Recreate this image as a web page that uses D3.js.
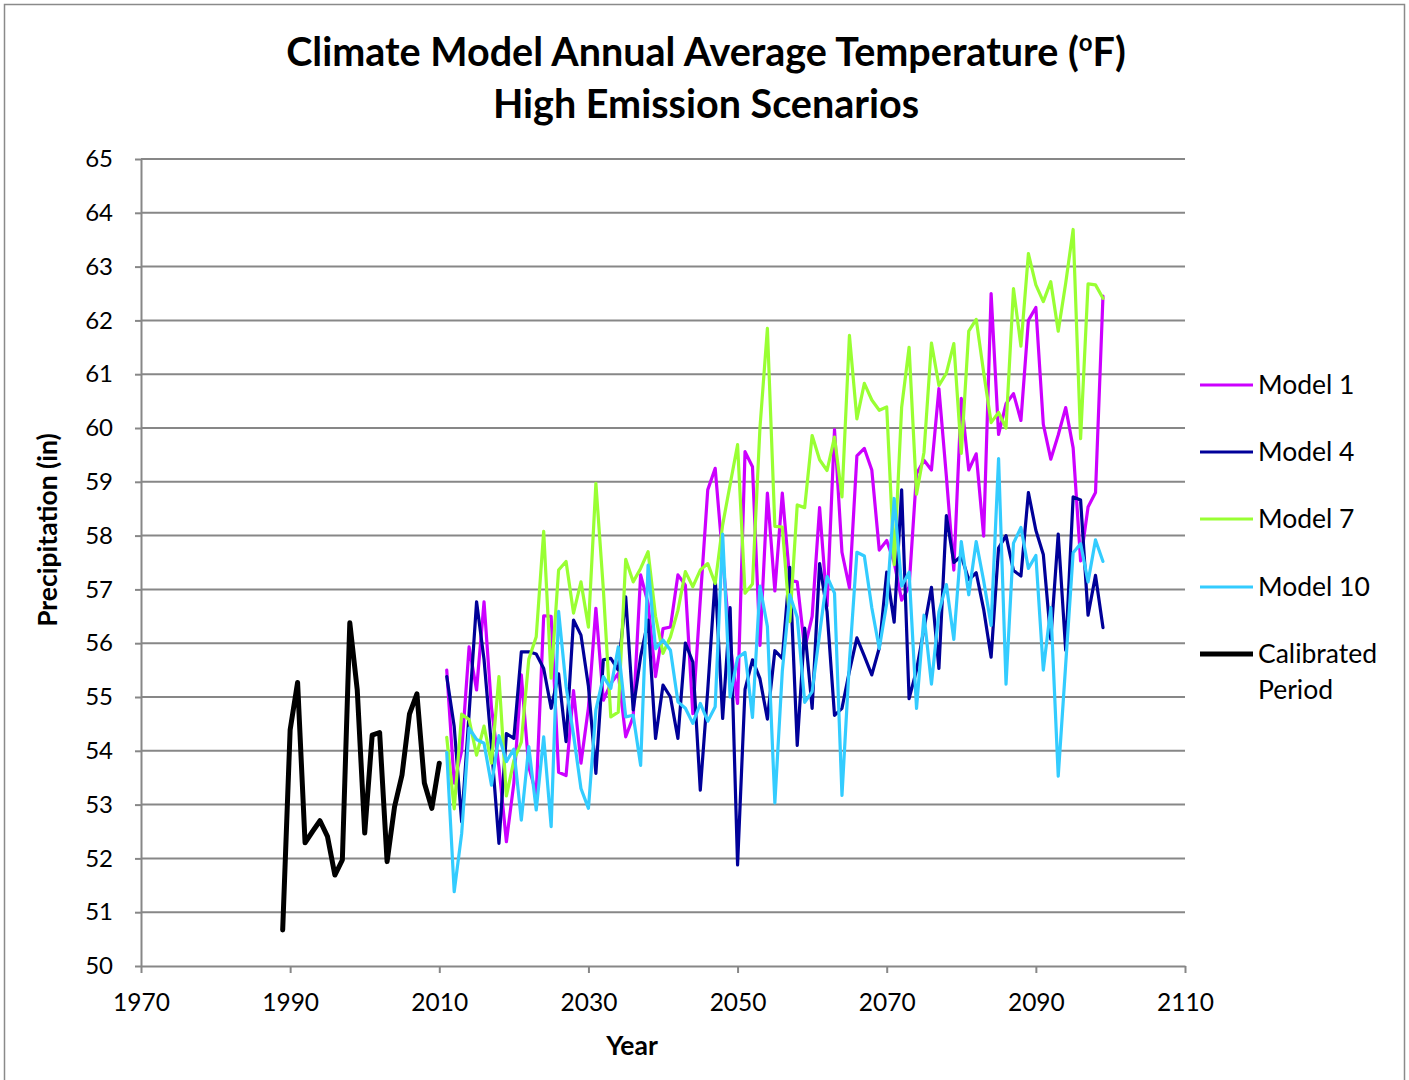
<!DOCTYPE html>
<html>
<head>
<meta charset="utf-8">
<script src="https://cdn.jsdelivr.net/npm/d3@7"></script>
<style>
  html, body { margin: 0; padding: 0; background: #fff; }
  svg { display: block; font-family: Lato, "Open Sans", sans-serif; }
</style>
</head>
<body>
<svg id="chart" width="1409" height="1080"></svg>
<script>
// Observed record used for calibration (1989-2010)
const calibYears = d3.range(1989, 2011);
const calibValues = [50.67, 54.39, 55.27, 52.29, 52.5, 52.70, 52.41, 51.69, 51.97, 56.38, 55.13,
  52.47, 54.29, 54.34, 51.94, 52.96, 53.55, 54.68, 55.06, 53.40, 52.93, 53.77];

// Model projections (2011-2099)
const modelYears = d3.range(2011, 2100);

const model1 = [55.5, 53.4, 54.0, 55.93, 55.13, 56.77, 54.8, 53.7, 52.31, 53.4,
  55.41, 53.7, 53.2, 56.51, 56.5, 53.6, 53.54, 55.12, 53.77, 54.8,
  56.65, 54.94, 55.25, 55.44, 54.26, 54.63, 57.27, 56.74, 55.38, 56.27,
  56.3, 57.27, 57.08, 54.69, 56.8, 58.85, 59.25, 57.6, 56.0, 54.88,
  59.56, 59.28, 55.96, 58.79, 56.97, 58.79, 57.17, 57.14, 55.9, 56.5,
  58.52, 56.69, 59.97, 57.69, 57.03, 59.48, 59.62, 59.22, 57.73, 57.91,
  57.5, 56.8, 57.05, 59.15, 59.4, 59.22, 60.73, 59.1, 57.36, 60.55,
  59.22, 59.52, 57.99, 62.5, 59.88, 60.45, 60.64, 60.14, 62.0, 62.24,
  60.07, 59.42, 59.87, 60.38, 59.63, 57.53, 58.53, 58.8, 62.45];

const model4 = [55.38, 54.45, 52.68, 54.7, 56.77, 55.7, 54.08, 52.28, 54.32, 54.23,
  55.84, 55.84, 55.8, 55.53, 54.79, 55.43, 54.17, 56.43, 56.15, 55.2,
  53.58, 55.69, 55.72, 55.5, 56.86, 54.76, 55.75, 56.43, 54.23, 55.22,
  55.0, 54.23, 56.0, 55.65, 53.27, 55.13, 57.2, 54.6, 56.66, 51.88,
  55.14, 55.69, 55.34, 54.59, 55.86, 55.72, 57.41, 54.1, 56.28, 54.79,
  57.48, 56.59, 54.66, 54.79, 55.48, 56.1, 55.76, 55.41, 55.91, 57.32,
  56.39, 58.85, 54.97, 55.5, 56.27, 57.04, 55.53, 58.37, 57.5, 57.62,
  57.18, 57.31, 56.63, 55.74, 57.77, 58.0, 57.35, 57.25, 58.8, 58.1,
  57.65, 56.07, 58.03, 55.87, 58.72, 58.66, 56.52, 57.26, 56.29];

const model7 = [54.25, 52.92, 54.68, 54.58, 53.92, 54.46, 53.77, 55.38, 53.16, 53.82,
  54.16, 55.7, 56.12, 58.08, 55.35, 57.36, 57.52, 56.56, 57.14, 56.3,
  58.97, 57.0, 54.63, 54.72, 57.56, 57.14, 57.39, 57.7, 56.5, 55.81,
  56.12, 56.61, 57.33, 57.05, 57.36, 57.48, 57.11, 58.2, 58.95, 59.69,
  56.93, 57.1, 60.0, 61.85, 58.17, 58.16, 56.4, 58.57, 58.52, 59.86,
  59.41, 59.21, 59.83, 58.72, 61.72, 60.17, 60.83, 60.52, 60.33, 60.39,
  57.46, 60.38, 61.5, 58.77, 59.55, 61.58, 60.79, 61.02, 61.57, 59.53,
  61.8, 62.02, 61.03, 60.1, 60.29, 60.0, 62.59, 61.52, 63.24, 62.66,
  62.35, 62.72, 61.8, 62.69, 63.69, 59.8, 62.68, 62.66, 62.41];

const model10 = [53.97, 51.38, 52.46, 54.42, 54.21, 54.14, 53.36, 54.28, 53.8, 54.03,
  52.71, 54.08, 52.9, 54.26, 52.59, 56.59, 55.2, 54.3, 53.3, 52.93,
  54.76, 55.38, 55.16, 55.93, 54.63, 54.66, 53.73, 57.45, 55.9, 56.06,
  55.87, 54.91, 54.79, 54.51, 54.88, 54.55, 54.82, 58.03, 55.0, 55.73,
  55.83, 54.62, 57.06, 56.31, 53.03, 55.48, 56.9, 56.48, 54.9, 55.1,
  56.17, 57.24, 56.93, 53.17, 55.66, 57.69, 57.62, 56.66, 55.9, 56.74,
  58.69, 57.06, 57.32, 54.79, 56.52, 55.24, 56.58, 57.09, 56.07, 57.89,
  56.9, 57.89, 57.16, 56.33, 59.43, 55.24, 57.86, 58.15, 57.39, 57.63,
  55.5, 56.66, 53.53, 55.6, 57.68, 57.85, 57.14, 57.92, 57.52];

const seriesNames = ["Model 1", "Model 4", "Model 7", "Model 10", "Calibrated Period"];
const xTicks = [1970, 1990, 2010, 2030, 2050, 2070, 2090, 2110];
const yTicks = d3.range(50, 66, 1);

const series = [
  { name: seriesNames[0], years: modelYears, values: model1, color: "#cc00ff", width: 3.2 },
  { name: seriesNames[1], years: modelYears, values: model4, color: "#000099", width: 3.2 },
  { name: seriesNames[2], years: modelYears, values: model7, color: "#99ff33", width: 3.2 },
  { name: seriesNames[3], years: modelYears, values: model10, color: "#33ccff", width: 3.2 },
  { name: seriesNames[4], years: calibYears, values: calibValues, color: "#000000", width: 5 }
];

const svg = d3.select("#chart");
const gridColor = "#878787";

// Outer chart frame
svg.append("rect")
  .attr("x", 4.5).attr("y", 4.5)
  .attr("width", 1400).attr("height", 1095)
  .attr("fill", "#fff")
  .attr("stroke", "#8a8a8a").attr("stroke-width", 1.5);

const plot = { left: 141, right: 1185, top: 159, bottom: 966 };
const x = d3.scaleLinear().domain([1970, 2110]).range([plot.left, plot.right]);
const y = d3.scaleLinear().domain([50, 65]).range([plot.bottom, plot.top]);

// Horizontal gridlines
svg.append("g")
  .selectAll("line")
  .data(yTicks.filter(v => v > 50))
  .join("line")
  .attr("x1", plot.left).attr("x2", plot.right)
  .attr("y1", d => y(d)).attr("y2", d => y(d))
  .attr("stroke", gridColor).attr("stroke-width", 2);

// Y axis
const yAxis = svg.append("g")
  .attr("transform", `translate(${plot.left},0)`)
  .call(d3.axisLeft(y).tickValues(yTicks).tickSize(6).tickPadding(22).tickSizeOuter(0));
yAxis.select(".domain").attr("stroke", gridColor).attr("stroke-width", 2);
yAxis.selectAll(".tick line").attr("stroke", gridColor).attr("stroke-width", 2);
yAxis.selectAll(".tick text")
  .attr("font-size", 24).attr("fill", "#000")
  .attr("font-family", "Lato, sans-serif");

// X axis
const xAxis = svg.append("g")
  .attr("transform", `translate(0,${plot.bottom})`)
  .call(d3.axisBottom(x).tickValues(xTicks).tickFormat(d3.format("d")).tickSize(7).tickPadding(21).tickSizeOuter(0));
xAxis.select(".domain").attr("stroke", gridColor).attr("stroke-width", 2);
xAxis.selectAll(".tick line").attr("stroke", gridColor).attr("stroke-width", 2);
xAxis.selectAll(".tick text")
  .attr("font-size", 24.5).attr("fill", "#000")
  .attr("font-family", "Lato, sans-serif");

// Series lines, drawn in legend order so later series sit on top
const line = d3.line()
  .x(d => x(d[0]))
  .y(d => y(d[1]));

svg.append("g")
  .selectAll("path")
  .data(series)
  .join("path")
  .attr("d", s => line(d3.zip(s.years, s.values)))
  .attr("fill", "none")
  .attr("stroke", s => s.color)
  .attr("stroke-width", s => s.width)
  .attr("stroke-linejoin", "round")
  .attr("stroke-linecap", "round");

// Title
const title = svg.append("text")
  .attr("x", 706).attr("y", 66)
  .attr("text-anchor", "middle")
  .attr("font-size", 39.5).attr("font-weight", "bold");
title.append("tspan").text("Climate Model Annual Average Temperature (");
title.append("tspan").text("o").attr("font-size", 24).attr("dy", -15);
title.append("tspan").text("F)").attr("dy", 15);

svg.append("text")
  .attr("x", 706).attr("y", 118)
  .attr("text-anchor", "middle")
  .attr("font-size", 39.5).attr("font-weight", "bold")
  .text("High Emission Scenarios");

// Axis titles
svg.append("text")
  .attr("x", 632).attr("y", 1055)
  .attr("text-anchor", "middle")
  .attr("font-size", 26.5).attr("font-weight", "bold")
  .text("Year");

svg.append("text")
  .attr("transform", "translate(57,530) rotate(-90)")
  .attr("text-anchor", "middle")
  .attr("font-size", 26.5).attr("font-weight", "bold")
  .text("Precipitation (in)");

// Legend
const legendY = [385, 452, 519, 587, 654];
const legend = svg.append("g");
series.forEach((s, i) => {
  legend.append("line")
    .attr("x1", 1200).attr("x2", 1253)
    .attr("y1", legendY[i]).attr("y2", legendY[i])
    .attr("stroke", s.color).attr("stroke-width", s.width);
  const words = s.name === "Calibrated Period" ? ["Calibrated", "Period"] : [s.name];
  words.forEach((w, j) => {
    legend.append("text")
      .attr("x", 1258).attr("y", legendY[i] + 9 + j * 36)
      .attr("font-size", 26.5).attr("fill", "#000")
      .text(w);
  });
});
</script>
</body>
</html>
